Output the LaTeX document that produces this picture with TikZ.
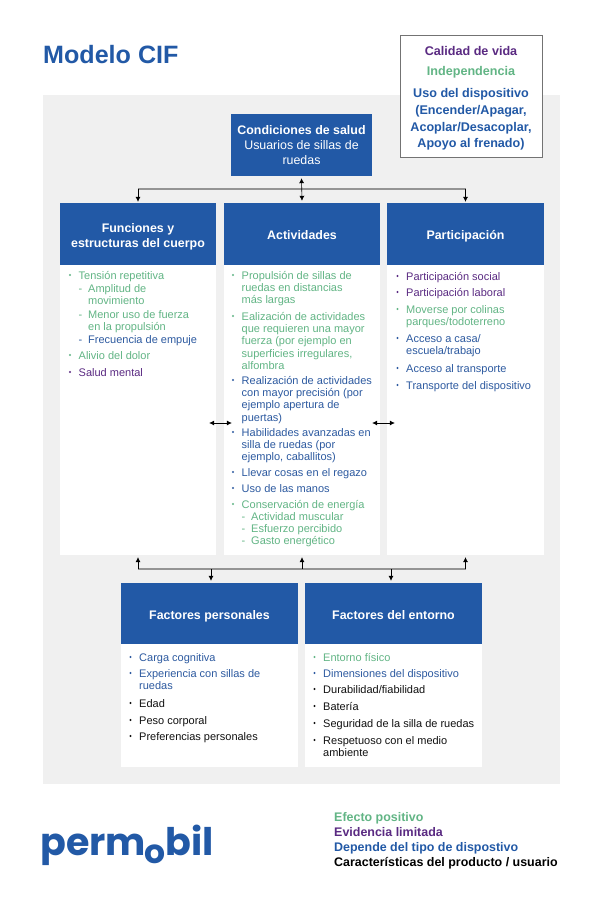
\documentclass[tikz,border=0pt]{standalone}
\usepackage{fontspec}
\setmainfont{Liberation Sans}
\newfontfamily\logofont{Poppins}
\usetikzlibrary{arrows.meta,calc}
\definecolor{hdr}{HTML}{2259A6}
\definecolor{bgg}{HTML}{F0F0F0}
\definecolor{grn}{HTML}{62B585}
\definecolor{prp}{HTML}{5A2A82}
\definecolor{blu}{HTML}{2D5AA0}
\definecolor{blk}{HTML}{111111}
\tikzset{
 hdrbox/.style={fill=hdr,text=white,inner sep=0pt,align=center,font=\fontsize{12.4}{15}\selectfont\bfseries},
 oneline/.style={text depth=0pt,text height=#1},
 bodybox/.style={fill=white,inner sep=0pt},
 itemtxt/.style={anchor=north west,inner sep=0pt,align=left,font=\fontsize{11}{12.3}\selectfont},
 bul/.style={circle,inner sep=0pt,minimum size=2.4pt},
 bus/.style={draw=black!42,line width=1.3pt},
 stem/.style={draw=black,line width=.6pt,-{Latex[length=5pt,width=5pt]}},
 dstem/.style={draw=black,line width=.6pt,{Latex[length=5pt,width=5pt]}-{Latex[length=5pt,width=5pt]}},
 legend/.style={anchor=base west,inner sep=0pt,font=\fontsize{12.45}{14}\selectfont\bfseries},
 toptxt/.style={inner sep=0pt,align=center,font=\fontsize{12.6}{16.7}\selectfont\bfseries},
 logotxt/.style={anchor=base west,inner sep=0pt,text=hdr,font=\logofont\fontsize{38}{38}\selectfont\bfseries},
}
\newcommand{\bitem}[5]{% name, x, y centre of first line, colour, text
 \node[bul,fill=#4] (#1b) at (#2-8.5,#3) {};
 \node[itemtxt,text=#4] (#1) at (#2,#3-4) {#5};}
\newcommand{\ditem}[5]{% sub item with dash
 \node[inner sep=0pt,text=#4,font=\fontsize{11}{12.3}\selectfont] (#1b) at (#2-7.5,#3+3) {-};
 \node[itemtxt,text=#4] (#1) at (#2,#3-4) {#5};}
\begin{document}
\begin{tikzpicture}[x=1pt,y=-1pt]
\useasboundingbox (0,0) rectangle (600,904);
\fill[white] (0,0) rectangle (600,904);
\fill[bgg] (43,95) rectangle (560,784);
\node[anchor=west,inner sep=0pt,text=hdr,font=\fontsize{25.1}{28}\selectfont\bfseries] (title) at (43,55) {Modelo CIF};
% top-right box
\node[draw=black!55,line width=.7pt,fill=white,minimum width=142pt,minimum height=122pt,inner sep=0pt] (topbox) at (471,96) {};
\node[toptxt,text=prp] (qol) at (471,51) {Calidad de vida};
\node[toptxt,text=grn] (ind) at (471,72) {Independencia};
\node[toptxt,text=hdr] (uso) at (471,119.5) {Uso del dispositivo\\(Encender/Apagar,\\Acoplar/Desacoplar,\\Apoyo al frenado)};
% header boxes
\node[hdrbox,minimum width=141pt,minimum height=62pt] (cond) at (301.5,145) {Condiciones de salud\\\mdseries Usuarios de sillas de\\\mdseries ruedas};
\node[bodybox,minimum width=156pt,minimum height=352pt] (fb) at (138,379) {};
\node[bodybox,minimum width=156pt,minimum height=352pt] (ab) at (302,379) {};
\node[bodybox,minimum width=157pt,minimum height=352pt] (pb) at (465.5,379) {};
\node[hdrbox,minimum width=156pt,minimum height=62pt] (func) at (138,234) {\rule{0pt}{15pt}Funciones y\\estructuras del cuerpo};
\node[hdrbox,oneline=11pt,minimum width=156pt,minimum height=62pt] (act) at (302,234) {Actividades};
\node[hdrbox,oneline=11pt,minimum width=157pt,minimum height=62pt] (part) at (465.5,234) {Participación};
\node[bodybox,minimum width=177pt,minimum height=184pt] (pfb) at (209.5,675) {};
\node[bodybox,minimum width=177pt,minimum height=184pt] (efb) at (393.5,675) {};
\node[hdrbox,oneline=12pt,minimum width=177pt,minimum height=61pt] (pf) at (209.5,613.5) {Factores personales};
\node[hdrbox,oneline=12pt,minimum width=177pt,minimum height=61pt] (ef) at (393.5,613.5) {Factores del entorno};
% connectors
\coordinate (busT) at (301.5,189);
\coordinate (busB) at (302,569);
\draw[bus] (func.north |- busT) -- (part.north |- busT);
\draw[stem] (func.north |- busT) -- ($(func.north)+(0,-1)$);
\draw[stem] (part.north |- busT) -- ($(part.north)+(0,-1)$);
\draw[dstem] ($(cond.south)+(0,2)$) -- ($(act.north)+(0,-2)$);
\draw[bus] (fb.south |- busB) -- (pb.south |- busB);
\draw[stem] (fb.south |- busB) -- ($(fb.south)+(0,2)$);
\draw[stem] (ab.south |- busB) -- ($(ab.south)+(0,2)$);
\draw[stem] (pb.south |- busB) -- ($(pb.south)+(0,2)$);
\draw[stem] ($(pf.north |- busB)+(1.5,0)$) -- ($(pf.north)+(1.5,-2)$);
\draw[stem] ($(ef.north |- busB)+(-2.5,0)$) -- ($(ef.north)+(-2.5,-2)$);
\draw[dstem] ($(fb.east)+(-7,44)$) -- ($(ab.west)+(8,44)$);
\draw[dstem] ($(ab.east)+(-8,44)$) -- ($(pb.west)+(8,44)$);
% column 1
\bitem{f1}{78.5}{275}{grn}{Tensión repetitiva}
\ditem{f2}{88}{288}{grn}{Amplitud de\\movimiento}
\ditem{f3}{88}{314}{grn}{Menor uso de fuerza\\en la propulsión}
\ditem{f4}{88}{339}{blu}{Frecuencia de empuje}
\bitem{f5}{78.5}{355}{grn}{Alivio del dolor}
\bitem{f6}{78.5}{372}{prp}{Salud mental}
% column 2
\bitem{a1}{241.5}{275}{grn}{Propulsión de sillas de\\ruedas en distancias\\más largas}
\bitem{a2}{241.5}{316}{grn}{Ealización de actividades\\que requieren una mayor\\fuerza (por ejemplo en\\superficies irregulares,\\alfombra}
\bitem{a3}{241.5}{380}{blu}{Realización de actividades\\con mayor precisión (por\\ejemplo apertura de\\puertas)}
\bitem{a4}{241.5}{432}{blu}{Habilidades avanzadas en\\silla de ruedas (por\\ejemplo, caballitos)}
\bitem{a5}{241.5}{472}{blu}{Llevar cosas en el regazo}
\bitem{a6}{241.5}{488}{blu}{Uso de las manos}
\bitem{a7}{241.5}{504}{grn}{Conservación de energía}
\ditem{a8}{251}{516}{grn}{Actividad muscular}
\ditem{a9}{251}{528}{grn}{Esfuerzo percibido}
\ditem{a10}{251}{540}{grn}{Gasto energético}
% column 3
\bitem{p1}{406}{276}{prp}{Participación social}
\bitem{p2}{406}{292}{prp}{Participación laboral}
\bitem{p3}{406}{309}{grn}{Moverse por colinas\\parques/todoterreno}
\bitem{p4}{406}{338}{blu}{Acceso a casa/\\escuela/trabajo}
\bitem{p5}{406}{368}{blu}{Acceso al transporte}
\bitem{p6}{406}{385}{blu}{Transporte del dispositivo}
% lower left
\bitem{l1}{139}{657}{blu}{Carga cognitiva}
\bitem{l2}{139}{673}{blu}{Experiencia con sillas de\\ruedas}
\bitem{l3}{139}{703}{blk}{Edad}
\bitem{l4}{139}{720}{blk}{Peso corporal}
\bitem{l5}{139}{736}{blk}{Preferencias personales}
% lower right
\bitem{r1}{323}{657}{grn}{Entorno físico}
\bitem{r2}{323}{673}{blu}{Dimensiones del dispositivo}
\bitem{r3}{323}{689}{blk}{Durabilidad/fiabilidad}
\bitem{r4}{323}{706}{blk}{Batería}
\bitem{r5}{323}{723}{blk}{Seguridad de la silla de ruedas}
\bitem{r6}{323}{740}{blk}{Respetuoso con el medio\\ambiente}
% legend
\node[legend,text=grn] (lg1) at (334,821) {Efecto positivo};
\node[legend,text=prp] (lg2) at (334,836) {Evidencia limitada};
\node[legend,text=hdr] (lg3) at (334,851) {Depende del tipo de dispostivo};
\node[legend,text=black] (lg4) at (334,866) {Características del producto / usuario};
% logo
\node[logotxt] (logo) at (40,855) {perm\kern-1.5pt\raisebox{-8pt}{\fontsize{33}{33}\selectfont o}\kern.5pt bil};
\end{tikzpicture}
\end{document}
